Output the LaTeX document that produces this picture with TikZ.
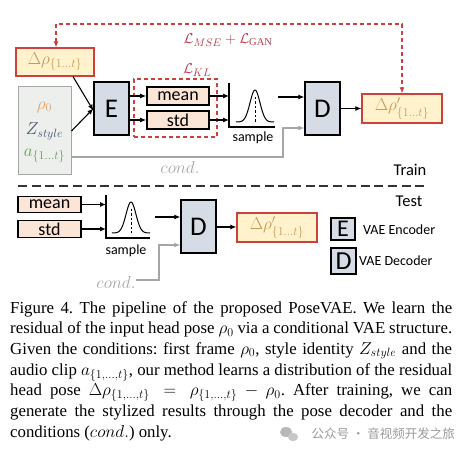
\documentclass[tikz,border=0pt]{standalone}
\usepackage{amsmath}
\usepackage{fontspec}
\setmainfont{Liberation Serif}
\newfontfamily\calib{Carlito}
\newfontfamily\cjk{Noto Sans CJK SC}
\usetikzlibrary{arrows.meta,calc}
\definecolor{boxblue}{HTML}{D6DCE5}
\definecolor{peach}{HTML}{FBE5D6}
\definecolor{resfill}{HTML}{FFF2CC}
\definecolor{resred}{HTML}{D0403A}
\definecolor{restext}{HTML}{C39A5A}
\definecolor{condfill}{HTML}{EDEFED}
\definecolor{condgray}{HTML}{A6A6A6}
\definecolor{rhocol}{HTML}{E3A268}
\definecolor{zcol}{HTML}{44546A}
\definecolor{acol}{HTML}{6F9A55}
\definecolor{losscol}{HTML}{B83A48}
\definecolor{wmgray}{HTML}{9A9A9A}
\tikzset{
  arr/.style={-{Latex[length=6pt,width=5pt]}, line width=1.1pt},
  garr/.style={arr, draw=condgray},
  coder/.style={draw=black, line width=1.3pt, fill=boxblue, minimum width=35pt, minimum height=53pt, inner sep=0pt, font=\calib\fontsize{27}{30}\selectfont},
  stat/.style={draw=black, line width=1.6pt, fill=peach, minimum width=62pt, minimum height=18pt, inner sep=0pt, font=\calib\fontsize{18}{18}\selectfont},
  resid/.style={draw=resred, line width=1.2pt, fill=resfill, minimum width=78pt, minimum height=28pt, inner sep=0pt, text=restext, font=\fontsize{16.5}{18}\selectfont},
  lossdash/.style={draw=resred, line width=1.2pt, dash pattern=on 4pt off 3pt},
  lbl/.style={inner sep=0pt, font=\calib\fontsize{14}{16}\selectfont},
  caprow/.style={anchor=base west, inner sep=0pt, font=\fontsize{16.8}{20}\selectfont\frenchspacing},
  gauss/.style={line width=1pt},
}
\begin{document}
\begin{tikzpicture}[x=1pt,y=-1pt]
\useasboundingbox (0,0) rectangle (471,454);
% ---------- Train ----------
\node[resid] (dr) at (55,62) {$\Delta\rho_{\{1\ldots t\}}$};
\node[draw=condgray, line width=1pt, fill=condfill, minimum width=53pt, minimum height=88pt, inner sep=0pt] (cb) at (44.5,131) {};
\node[inner sep=0pt, text=rhocol, font=\fontsize{17}{18}\selectfont] (r0) at (44.5,107) {$\rho_0$};
\node[inner sep=0pt, text=zcol, font=\fontsize{18}{18}\selectfont] (zs) at (44.5,131) {$Z_{style}$};
\node[inner sep=0pt, text=acol, font=\fontsize{17}{18}\selectfont] (aa) at (44.5,156) {$a_{\{1\ldots t\}}$};
\node[coder] (E) at (111.5,108.5) {E};
\node[stat] (mean) at (178,96) {mean};
\node[stat] (std) at (178,120) {std};
\node[lossdash, minimum width=83pt, minimum height=58pt, inner sep=0pt] (kl) at (175.5,108) {};
\node[inner sep=0pt, text=losscol, font=\fontsize{15}{16}\selectfont] (kll) at (197,70) {$\mathcal{L}_{KL}$};
% sampler
\coordinate (s1top) at (229,83);
\coordinate (s1c) at (229,127);
\coordinate (s1r) at (275,127);
\draw[line width=1.1pt] (s1top) -- (s1c) -- (s1r);
\draw[gauss] plot[domain=-19:19,samples=60,smooth] ({255+\x},{122-32*exp(0-(\x/7)*(\x/7))});
\draw[line width=1pt, dash pattern=on 2.5pt off 2pt] (255,97) -- (255,122);
\node[lbl] (smp1) at (253,138) {sample};
\node[coder] (D) at (322.5,108.5) {D};
\node[resid, minimum width=80pt, minimum height=29pt] (drp) at (402,108.5) {$\Delta\rho'_{\{1\ldots t\}}$};
\coordinate (zin) at (278,97);
% arrows
\draw[arr] ($(dr.south)+(18,0)$) -- ($(E.west)+(0,2)$);
\draw[arr] (cb.east |- 0,131) -- ($(E.west)+(0,0)$);
\draw[arr] (E.east |- mean) -- (mean.west);
\draw[arr] (E.east |- std) -- (std.west);
\draw[arr] (mean.east) -- (mean.east -| s1c);
\draw[arr] (std.east) -- (std.east -| s1c);
\draw[arr] (zin) -- (zin -| D.west);
\draw[arr] (D.east) -- (drp.west);
\draw[garr] (cb.east |- 0,157) -| (283,128) -- (D.west |- 0,128);
\node[inner sep=0pt, text=condgray, font=\fontsize{18}{18}\selectfont] (cond1) at (180,168) {$cond.$};
% loss loop
\draw[lossdash, {Latex[length=6pt,width=5pt]}-{Latex[length=6pt,width=5pt]}] (dr.north -| 56,0) |- (402,24) -- (drp.north);
\node[inner sep=0pt, text=losscol, font=\fontsize{15}{16}\selectfont] (lossl) at (228,40) {$\mathcal{L}_{MSE}+\mathcal{L}_{\mathrm{GAN}}$};
\node[lbl, font=\calib\fontsize{16.5}{18}\selectfont] (train) at (410,170) {Train};
% separator
\coordinate (sepl) at (18,186);
\coordinate (sepr) at (428,186);
\draw[line width=1.4pt, draw=black!80, dash pattern=on 9pt off 4.7pt] (sepl) -- (sepr);
\node[lbl, font=\calib\fontsize{16.5}{18}\selectfont] (test) at (409,201) {Test};
% ---------- Test ----------
\node[stat, minimum width=63pt, minimum height=16pt] (mean2) at (49.5,204.5) {mean};
\node[stat, minimum width=63pt, minimum height=17pt] (std2) at (49.5,229) {std};
\coordinate (s2top) at (106,195);
\coordinate (s2c) at (106,238);
\coordinate (s2r) at (150,238);
\draw[line width=1.1pt] (s2top) -- (s2c) -- (s2r);
\draw[gauss] plot[domain=-19:19,samples=60,smooth] ({131+\x},{233-31*exp(0-(\x/7)*(\x/7))});
\draw[line width=1pt, dash pattern=on 2.5pt off 2pt] (131,209) -- (131,233);
\node[lbl] (smp2) at (126,251) {sample};
\node[coder] (D2) at (198.5,226.5) {D};
\node[resid, minimum width=80pt, minimum height=29pt] (drp2) at (277,227.5) {$\Delta\rho'_{\{1\ldots t\}}$};
\coordinate (zin2) at (155,217);
\draw[arr] (mean2.east) -- (mean2.east -| s2c);
\draw[arr] (std2.east) -- (std2.east -| s2c);
\draw[arr] (zin2) -- (zin2 -| D2.west);
\draw[arr] (D2.east |- 0,227) -- (drp2.west |- 0,227);
\node[inner sep=0pt, text=condgray, font=\fontsize{18}{18}\selectfont] (cond2) at (116,283) {$cond.$};
\draw[garr] (cond2.east |- 0,280) -| (159,245) -- (D2.west |- 0,245);
% legend
\node[coder, minimum width=24pt, minimum height=22pt, font=\calib\fontsize{24}{24}\selectfont] (LE) at (343,229) {E};
\node[lbl, anchor=west] (LEt) at (363,230) {VAE Encoder};
\node[coder, minimum width=25pt, minimum height=26pt, font=\calib\fontsize{26}{26}\selectfont] (LD) at (343.5,261) {D};
\node[lbl, anchor=west] (LDt) at (359,261) {VAE Decoder};
% ---------- caption ----------
\node[caprow] (c1) at (10,313) {\makebox[442pt][s]{Figure 4. The pipeline of the proposed PoseVAE. We learn the}};
\node[caprow] (c2) at (10,333.7) {\makebox[442pt][s]{residual of the input head pose $\rho_0$ via a conditional VAE structure.}};
\node[caprow] (c3) at (10,354.3) {\makebox[442pt][s]{Given the conditions: first frame $\rho_0$, style identity $Z_{style}$ and the}};
\node[caprow] (c4) at (10,375) {\makebox[442pt][s]{audio clip $a_{\{1,\ldots,t\}}$, our method learns a distribution of the residual}};
\node[caprow] (c5) at (10,395.7) {\makebox[442pt][s]{head pose $\Delta\rho_{\{1,\ldots,t\}} = \rho_{\{1,\ldots,t\}} - \rho_0$. After training, we can}};
\node[caprow] (c6) at (10,416.3) {\makebox[442pt][s]{generate the stylized results through the pose decoder and the}};
\node[caprow] (c7) at (10,437) {conditions ($cond.$) only.};
% watermark
\node[inner sep=0pt, anchor=base east, text=wmgray, font=\cjk\fontsize{12.5}{14}\selectfont] (wm) at (455,438) {公众号 · 音视频开发之旅};
\fill[wmgray!70] (286,432) ellipse (6pt and 5pt);
\fill[wmgray!55] (293,437) ellipse (5pt and 4.2pt);
\end{tikzpicture}
\end{document}
